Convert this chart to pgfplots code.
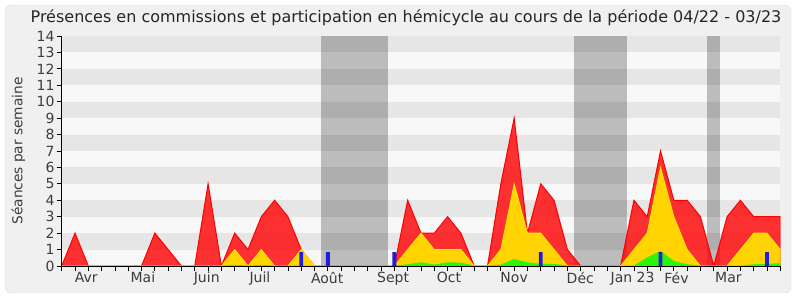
\documentclass[border=0pt]{standalone}
\usepackage{pgfplots}
\pgfplotsset{compat=1.18}
\usepackage{pgfplotstable}
\usepackage{fontspec}
\setmainfont{DejaVu Sans}
\definecolor{bgframe}{RGB}{240,240,240}
\definecolor{frameline}{RGB}{222,222,222}
\definecolor{stripeA}{RGB}{230,230,230}
\definecolor{stripeB}{RGB}{248,248,248}
\definecolor{redline}{RGB}{255,0,0}
\definecolor{redfill}{RGB}{255,51,51}
\definecolor{yelline}{RGB}{255,235,0}
\definecolor{yelfill}{RGB}{255,212,0}
\definecolor{grnfill}{RGB}{45,245,10}
\definecolor{bluebar}{RGB}{30,30,225}
\definecolor{labgray}{RGB}{60,60,60}

\pgfplotstableread{
w v
0 0
1 2
2 0
3 0
4 0
5 0
6 0
7 2
8 1
9 0
10 0
11 5
12 0
13 2
14 1
15 3
16 4
17 3
18 1
19 0
20 0
21 0
22 0
23 0
24 0
25 0
26 4
27 2
28 2
29 3
30 2
31 0
32 0
33 5
34 9
35 2
36 5
37 4
38 1
39 0
40 0
41 0
42 0
43 4
44 3
45 7
46 4
47 4
48 3
49 0
50 3
51 4
52 3
53 3
54 3
}\redtab

\pgfplotstableread{
w v
0 0
12 0
13 1
14 0
15 1
16 0
17 0
18 1
19 0
25 0
26 1
27 2
28 1
29 1
30 1
31 0
32 0
33 1
34 5
35 2
36 2
37 1
38 0
42 0
43 1
44 2
45 6
46 3
47 1
48 0
50 0
51 1
52 2
53 2
54 1
}\yeltab

\pgfplotstableread{
w v
0 0
12 0
13 0.04
14 0
15 0.04
16 0
25 0
26 0.08
27 0.2
28 0.06
29 0.2
30 0.18
31 0
32 0
33 0.06
34 0.4
35 0.2
36 0.1
37 0.1
38 0
43 0
44 0.5
45 0.88
46 0.28
47 0.08
48 0
51 0
52 0.08
53 0.1
54 0.15
}\grntab

\begin{document}
\begin{tikzpicture}
\fill[white] (0,0) rectangle (800bp,300bp);
\draw[draw=frameline, fill=bgframe, rounded corners=6bp] (5bp,7bp) rectangle (791bp,295bp);
\begin{axis}[
  at={(61.7bp,34bp)}, anchor=south west,
  scale only axis, width=718.6bp, height=230bp,
  xmin=0, xmax=54, ymin=0, ymax=14,
  axis x line*=bottom, axis y line*=left,
  axis line style={black, line width=0.8bp, -},
  axis on top,
  clip mode=individual,
  xtick={0,...,54}, xticklabels={},
  extra x ticks={1.85,6.1,10.9,14.9,19.95,24.9,29.1,34.0,38.97,42.9,46.2,50.1},
  extra x tick labels={Avr,Mai,Juin,Juil,Août,Sept,Oct,Nov,Déc,Jan 23,Fév,Mar},
  extra x tick style={major tick length=0pt, tick style={draw=none}, tick label style={yshift=-5bp}},
  ytick={0,...,14},
  tick align=outside, major tick length=5bp,
  tick style={black, line width=0.8bp},
  tick label style={font=\fontsize{14bp}{14bp}\selectfont, text=labgray},
  /pgf/number format/assume math mode=true,
  xticklabel style={inner sep=1bp},
  yticklabel style={inner sep=2bp},
  ylabel={Séances par semaine},
  ylabel style={at={(axis description cs:-0.0605,0.5)}, anchor=center, rotate=0, font=\fontsize{13.7bp}{13.7bp}\selectfont, text=labgray},
]
% background stripes
\fill[stripeB] (axis cs:0,0) rectangle (axis cs:54,14);
\fill[stripeA] (axis cs:0,1) rectangle (axis cs:54,2);
\fill[stripeA] (axis cs:0,3) rectangle (axis cs:54,4);
\fill[stripeA] (axis cs:0,5) rectangle (axis cs:54,6);
\fill[stripeA] (axis cs:0,7) rectangle (axis cs:54,8);
\fill[stripeA] (axis cs:0,9) rectangle (axis cs:54,10);
\fill[stripeA] (axis cs:0,11) rectangle (axis cs:54,12);
\fill[stripeA] (axis cs:0,13) rectangle (axis cs:54,14);
% gray bands
\fill[black, opacity=0.24] (axis cs:19.5,0) rectangle (axis cs:24.5,14);
\fill[black, opacity=0.24] (axis cs:38.5,0) rectangle (axis cs:42.5,14);
\fill[black, opacity=0.24] (axis cs:48.5,0) rectangle (axis cs:49.5,14);
% series
\addplot[draw=redline, line width=1bp, fill=redline, fill opacity=0.8] table[x=w,y=v] {\redtab} \closedcycle;
\addplot[draw=yelline, line width=0.8bp, fill=yelfill] table[x=w,y=v] {\yeltab} \closedcycle;
\addplot[draw=grnfill, line width=0.8bp, fill=grnfill] table[x=w,y=v] {\grntab} \closedcycle;
\addplot[ybar, bar width=3.8bp, fill=bluebar, draw=none] coordinates {(18,0.85) (20,0.85) (25,0.85) (36,0.85) (45,0.85) (53,0.85)};
% top dots
\addplot[only marks, mark=square*, mark size=0.45bp, black] coordinates {
(0,14.05)(1,14.05)(2,14.05)(3,14.05)(4,14.05)(5,14.05)(6,14.05)(7,14.05)(8,14.05)(9,14.05)
(10,14.05)(11,14.05)(12,14.05)(13,14.05)(14,14.05)(15,14.05)(16,14.05)(17,14.05)(18,14.05)(19,14.05)
(20,14.05)(21,14.05)(22,14.05)(23,14.05)(24,14.05)(25,14.05)(26,14.05)(27,14.05)(28,14.05)(29,14.05)
(30,14.05)(31,14.05)(32,14.05)(33,14.05)(34,14.05)(35,14.05)(36,14.05)(37,14.05)(38,14.05)(39,14.05)
(40,14.05)(41,14.05)(42,14.05)(43,14.05)(44,14.05)(45,14.05)(46,14.05)(47,14.05)(48,14.05)(49,14.05)
(50,14.05)(51,14.05)(52,14.05)(53,14.05)(54,14.05)};
\end{axis}
\node[font=\fontsize{16bp}{16bp}\selectfont, text=black!85] at (406bp,282bp) {Présences en commissions et participation en hémicycle au cours de la période 04/22 - 03/23};
\end{tikzpicture}
\end{document}
